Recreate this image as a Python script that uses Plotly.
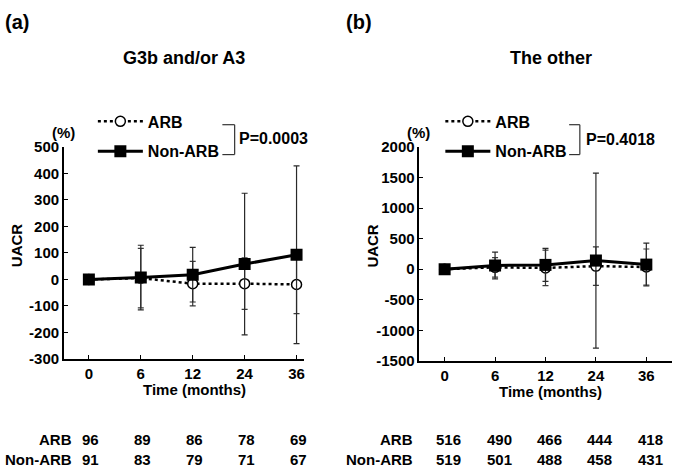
import plotly.graph_objects as go

# ---------------- data ----------------
months = ["0", "6", "12", "24", "36"]

# Panel (a): G3b and/or A3  (% change in UACR, mean and SD)
a_arb_mean = [0, 5, -16, -16, -19]
a_arb_sd = [0, 112, 84, 97, 110]
a_non_mean = [0, 7, 18, 58, 93]
a_non_sd = [0, 122, 103, 267, 335]

# Panel (b): The other
b_arb_mean = [0, 30, 20, 50, 35]
b_arb_sd = [0, 160, 290, 315, 295]
b_non_mean = [0, 60, 70, 140, 75]
b_non_sd = [0, 220, 270, 1430, 350]

# Numbers at risk
a_n_arb = [96, 89, 86, 78, 69]
a_n_non = [91, 83, 79, 71, 67]
b_n_arb = [516, 490, 466, 444, 418]
b_n_non = [519, 501, 488, 458, 431]

# y tick values (labels use a plain hyphen as in the original)
a_yticks = [-300, -200, -100, 0, 100, 200, 300, 400, 500]
b_yticks = [-1500, -1000, -500, 0, 500, 1000, 1500, 2000]

series_names = ["ARB", "Non-ARB"]
panel_labels = ["(a)", "(b)"]
panel_titles = ["G3b and/or A3", "The other"]
p_values = ["P=0.0003", "P=0.4018"]

# ---------------- layout helpers ----------------
W, H = 675, 474
FONT = "Liberation Sans, Arial, sans-serif"


def px(x):
    return x / W


def py(y):
    return 1 - y / H


fig = go.Figure()


def add_pair(arb_mean, arb_sd, non_mean, non_sd, xa, ya, legend, grp):
    fig.add_trace(go.Scatter(
        x=months, y=arb_mean, name=series_names[0], xaxis=xa, yaxis=ya,
        mode="lines+markers", legend=legend, legendgroup=grp + "1",
        line=dict(color="black", width=2.5, dash="dot"),
        marker=dict(symbol="circle", size=10, color="white",
                    line=dict(color="black", width=1.5)),
        error_y=dict(type="data", array=arb_sd, visible=True,
                     color="#3a3a3a", thickness=1.2, width=3),
    ))
    fig.add_trace(go.Scatter(
        x=months, y=non_mean, name=series_names[1], xaxis=xa, yaxis=ya,
        mode="lines+markers", legend=legend, legendgroup=grp + "2",
        line=dict(color="black", width=3),
        marker=dict(symbol="square", size=12, color="black"),
        error_y=dict(type="data", array=non_sd, visible=True,
                     color="#2a2a2a", thickness=1.2, width=3),
    ))


add_pair(a_arb_mean, a_arb_sd, a_non_mean, a_non_sd, "x", "y", "legend", "a")
add_pair(b_arb_mean, b_arb_sd, b_non_mean, b_non_sd, "x2", "y2", "legend2", "b")

axis_style = dict(
    showline=True, linecolor="black", linewidth=1.5,
    ticks="inside", ticklen=4, tickcolor="black", tickwidth=1.2,
    tickfont=dict(family=FONT, size=15, color="black", weight="bold"),
    showgrid=False, zeroline=False, fixedrange=True,
)

legend_style = dict(
    xanchor="left", yanchor="top", bgcolor="rgba(0,0,0,0)",
    font=dict(family=FONT, size=16, color="black", weight="bold"),
    itemwidth=45, tracegroupgap=6, traceorder="grouped",
)

fig.update_layout(
    width=W, height=H, margin=dict(l=0, r=0, t=0, b=0),
    paper_bgcolor="white", plot_bgcolor="white",
    font=dict(family=FONT, color="black", weight="bold"),
    showlegend=True,
    xaxis=dict(domain=[px(64), px(304)], range=[-0.481, 4.135],
               type="category", anchor="y", **axis_style),
    yaxis=dict(domain=[py(363), py(143)], range=[-300, 500],
               tickvals=a_yticks, ticktext=[str(v) for v in a_yticks],
               anchor="x", **axis_style),
    xaxis2=dict(domain=[px(420), px(673)], range=[-0.501, 4.509],
                type="category", anchor="y2", **axis_style),
    yaxis2=dict(domain=[py(365), py(143)], range=[-1500, 2000],
                tickvals=b_yticks, ticktext=[str(v) for v in b_yticks],
                anchor="x2", **axis_style),
    legend=dict(x=px(93), y=py(99), **legend_style),
    legend2=dict(x=px(441), y=py(99), **legend_style),
)

ann = []


def text(x, y, s, size, xanchor="center", angle=0, xref="paper", xshift=0):
    ann.append(dict(x=x, y=y, xref=xref, yref="paper", text=s, showarrow=False,
                    xanchor=xanchor, yanchor="middle", textangle=angle,
                    xshift=xshift,
                    font=dict(family=FONT, size=size, color="black",
                              weight="bold")))


# panel labels and titles
text(px(3), py(14), panel_labels[0], 20, xanchor="left")
text(px(345), py(14), panel_labels[1], 20, xanchor="left")
text(px(184), py(51), panel_titles[0], 18)
text(px(552), py(51), panel_titles[1], 18)

# units and axis titles
text(px(64), py(128), "(%)", 15)
text(px(419), py(128), "(%)", 15)
text(px(16), py(245), "UACR", 15, angle=-90)
text(px(373), py(246), "UACR", 15, angle=-90)
text(px(195), py(395), "Time (months)", 15)
text(px(551), py(397), "Time (months)", 15)

# P-values
text(px(237), py(134), p_values[0], 16, xanchor="left")
text(px(585), py(135), p_values[1], 16, xanchor="left")

# numbers at risk (placed at the category positions of each x axis)
row_y = [447, 467]
text(px(74), py(row_y[0]), series_names[0], 15, xanchor="right")
text(px(74), py(row_y[1]), series_names[1], 15, xanchor="right")
text(px(416), py(row_y[0]), series_names[0], 15, xanchor="right")
text(px(416), py(row_y[1]), series_names[1], 15, xanchor="right")
for i, (n1, n2) in enumerate(zip(a_n_arb, a_n_non)):
    text(i, py(row_y[0]), str(n1), 15, xref="x", xshift=2)
    text(i, py(row_y[1]), str(n2), 15, xref="x", xshift=2)
for i, (n1, n2) in enumerate(zip(b_n_arb, b_n_non)):
    text(i, py(row_y[0]), str(n1), 15, xref="x2", xshift=4)
    text(i, py(row_y[1]), str(n2), 15, xref="x2", xshift=4)

fig.update_layout(annotations=ann)

# P-value brackets
shapes = []
for x0, x1 in [(222.7, 235), (570, 580.7)]:
    for (ax, ay, bx, by) in [(x0, 120, x1, 120), (x1, 120, x1, 151), (x0, 151, x1, 151)]:
        shapes.append(dict(type="line", xref="paper", yref="paper",
                           x0=px(ax), y0=py(ay), x1=px(bx), y1=py(by),
                           line=dict(color="#333333", width=1.2)))
fig.update_layout(shapes=shapes)

# remove the default 8px page margin so the figure sits at the window origin
fig.write_html(
    "out.html",
    config={"displayModeBar": False},
    post_script="document.body.style.margin='0';document.body.style.padding='0';",
)
